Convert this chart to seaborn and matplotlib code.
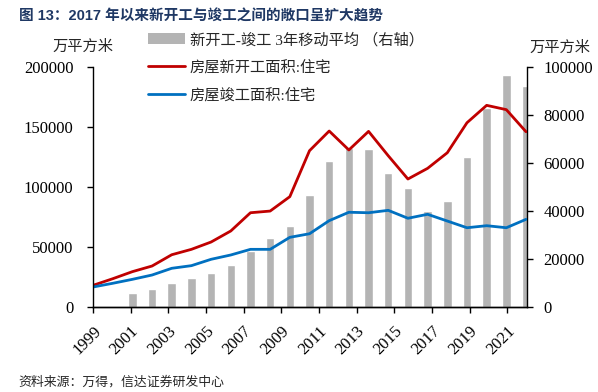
import matplotlib
matplotlib.use("Agg")
import numpy as np
import seaborn as sns
import matplotlib.pyplot as plt
from matplotlib.patches import Patch
from matplotlib.lines import Line2D

# yearly data, 万平方米
years = list(range(1999, 2022))
new_start = [17800, 23300, 29200, 33900, 43300, 47800, 53900, 63100, 78300, 79700,
             91700, 130000, 146400, 130600, 146100, 125800, 106400, 115300, 128300,
             153300, 167800, 164200, 145800]
completed = [16400, 19500, 22800, 26400, 32000, 34200, 39500, 43100, 47800, 47800,
             57800, 60800, 71700, 78700, 78300, 80300, 73700, 77000, 71400, 65800,
             67500, 65800, 72800]

# 3-year moving average of (new starts - completions), right axis
bar_years = list(range(2001, 2022))
gap_ma3 = [5500, 7400, 9900, 12000, 14100, 17200, 23300, 28800, 33700, 46500,
           60600, 66300, 65800, 55800, 49500, 39800, 44000, 62300, 82800, 96600, 92000]

tick_labels = [str(y) for y in range(1999, 2022, 2)]

sns.set_style("white")
plt.rcParams['font.family'] = ['Liberation Serif', 'Noto Sans CJK SC']
plt.rcParams['axes.unicode_minus'] = False

fig = plt.figure(figsize=(5.98, 3.92), dpi=100)
ax = fig.add_axes([93 / 598, 1 - 306.7 / 392, (527 - 93) / 598, 240 / 392])
ax2 = ax.twinx()

sns.barplot(x=bar_years, y=gap_ma3, ax=ax2, native_scale=True, width=0.43,
            color="#b4b4b4", saturation=1, errorbar=None)
sns.lineplot(x=years, y=new_start, ax=ax, color="#c00000", linewidth=2.0)
sns.lineplot(x=years, y=completed, ax=ax, color="#0070c0", linewidth=2.0)

# lines above bars
ax.set_zorder(ax2.get_zorder() + 1)
ax.patch.set_visible(False)

ax.set_xlim(1999, 2021.05)
ax.set_ylim(0, 200000)
ax2.set_ylim(0, 100000)
ax.set_yticks(np.arange(0, 200001, 50000))
ax2.set_yticks(np.arange(0, 100001, 20000))
ax.set_xticks(np.linspace(1999, 2021, 24)[::2])
ax.set_xticklabels(tick_labels, rotation=45, ha='right', rotation_mode='anchor')
ax.set_xlabel('')
ax2.set_xlabel('')
ax.set_ylabel('')
ax2.set_ylabel('')

for a in (ax, ax2):
    a.spines['top'].set_visible(False)
    for s in a.spines.values():
        s.set_color('black')
        s.set_linewidth(1.0)
ax.spines['right'].set_visible(False)
ax2.spines['left'].set_visible(False)

ax.tick_params(axis='y', direction='out', length=4, width=1, colors='black',
               labelsize=12, pad=10, left=True)
ax.tick_params(axis='x', direction='out', length=4, width=1, colors='black',
               labelsize=12, pad=8, bottom=True)
ax2.tick_params(axis='y', direction='out', length=4, width=1, colors='black',
                labelsize=12, pad=8, right=True)

fig.text(19 / 598, 1 - 16 / 392, '图 13：2017 年以来新开工与竣工之间的敞口呈扩大趋势',
         fontsize=10.5, fontweight='bold', color='#1f3864',
         family=['Liberation Sans', 'Noto Sans CJK SC'], va='center')
fig.text(83 / 598, 1 - 47 / 392, '万平方米', fontsize=11, ha='center', va='center')
fig.text(560 / 598, 1 - 48 / 392, '万平方米', fontsize=11, ha='center', va='center')
fig.text(18 / 598, 1 - 382 / 392, '资料来源：万得，信达证券研发中心', fontsize=9.3,
         style='italic', va='center')

handles = [Patch(facecolor='#b4b4b4', edgecolor='none'),
           Line2D([], [], color='#c00000', linewidth=2.0),
           Line2D([], [], color='#0070c0', linewidth=2.0)]
labels = ['新开工-竣工 3年移动平均 （右轴）', '房屋新开工面积:住宅', '房屋竣工面积:住宅']
fig.legend(handles, labels, loc='upper left', bbox_to_anchor=(148 / 598, 1 - 32.5 / 392),
           frameon=False, fontsize=11, handlelength=2.4, handletextpad=0.35,
           labelspacing=0.85, borderaxespad=0, borderpad=0)

fig.savefig('out.png', dpi=100)
